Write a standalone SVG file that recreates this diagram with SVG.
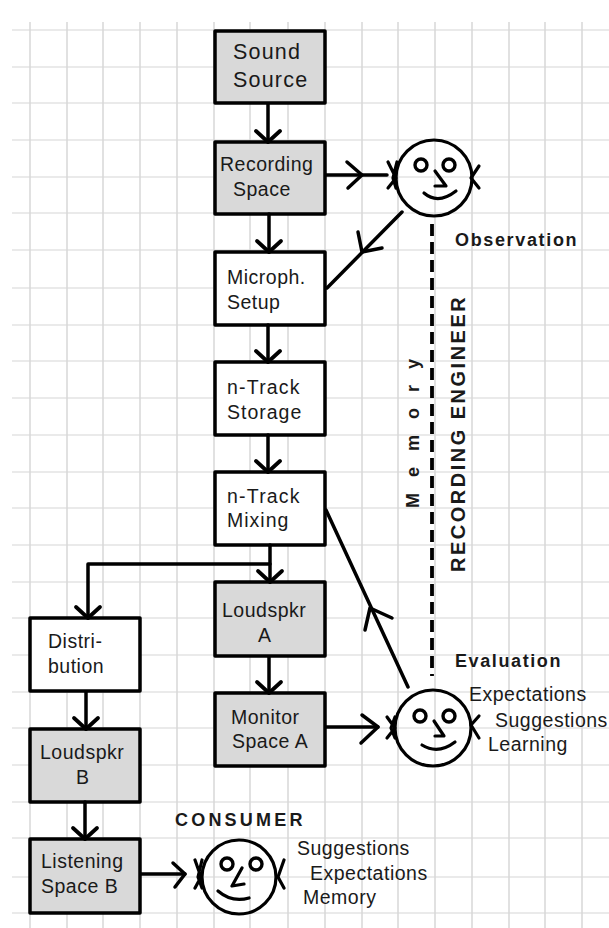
<svg xmlns="http://www.w3.org/2000/svg" width="609" height="928" viewBox="0 0 609 928">
<style>
.g{stroke:#e4e4e4;stroke-width:1.5;fill:none}
.gd{stroke:#d8d8d8;stroke-width:1.5;fill:none}
.b{stroke:#000;stroke-width:3.5;stroke-linejoin:round}
.s{fill:#d9d9d9}.w{fill:#fff}
text{font-family:"Liberation Sans",Arial,sans-serif;fill:#1a1a1a;font-size:19.5px;letter-spacing:.5px}
.h{font-weight:bold;font-size:18px}
.c{stroke:#000;stroke-width:3.5;fill:none;stroke-linecap:round;stroke-linejoin:round}
.f{stroke:#000;stroke-width:3.2;fill:none;stroke-linecap:round;stroke-linejoin:round}
</style>
<defs>
<marker id="a" markerUnits="userSpaceOnUse" markerWidth="32" markerHeight="32" refX="26" refY="16" orient="auto"><path d="M15 4L26 16L15 28" fill="none" stroke="#000" stroke-width="3.8" stroke-linecap="round" stroke-linejoin="round"/></marker>
<g id="eye"><circle r="6" fill="none" stroke="#000" stroke-width="3.4"/></g>
</defs>
<g id="grid">
<path class="g" d="M12 30H609M12 67H609M12 103H609M12 140H609M12 177H609M12 213H609M12 250H609M12 288H609M12 325H609M12 361H609M12 398H609M12 435H609M12 472H609M12 508H609M12 545H609M12 582H609M12 618H609M12 655H609M12 692H609M12 728H609M12 765H609M12 802H609M12 838H609M12 877H609M12 913H609"/>
<path class="gd" d="M30 22V928M67 22V928M103 22V928M140 22V928M177 22V928M214 22V928M250 22V928M288 22V928M325 22V928M362 22V928M398 22V928M435 22V928M472 22V928M509 22V928M545 22V928M582 22V928"/>
</g>
<g id="sound-source"><rect class="b s" x="215" y="31" width="110" height="72"/><text x="233" y="59" style="font-size:21.5px;letter-spacing:1.2px">Sound</text><text x="233" y="87" style="font-size:21.5px;letter-spacing:1.2px">Source</text></g>
<g id="recording-space"><rect class="b s" x="215" y="142" width="110" height="72"/><text x="220" y="171">Recording</text><text x="233" y="196">Space</text></g>
<g id="microph-setup"><rect class="b w" x="215" y="252" width="110" height="73"/><text x="227" y="284">Microph.</text><text x="227" y="309">Setup</text></g>
<g id="storage"><rect class="b w" x="215" y="362" width="110" height="73"/><text x="227" y="394" style="letter-spacing:1.2px">n-Track</text><text x="227" y="419" style="letter-spacing:1px">Storage</text></g>
<g id="mixing"><rect class="b w" x="215" y="472" width="110" height="73"/><text x="227" y="503" style="letter-spacing:1.2px">n-Track</text><text x="227" y="527" style="letter-spacing:1px">Mixing</text></g>
<g id="loudspkr-a"><rect class="b s" x="215" y="582" width="110" height="74"/><text x="222" y="617">Loudspkr</text><text x="258" y="642">A</text></g>
<g id="monitor"><rect class="b s" x="215" y="693" width="110" height="73"/><text x="231" y="724">Monitor</text><text x="232" y="748">Space A</text></g>
<g id="distribution"><rect class="b w" x="30" y="618" width="110" height="73"/><text x="48" y="648">Distri-</text><text x="48" y="673">bution</text></g>
<g id="loudspkr-b"><rect class="b s" x="30" y="729" width="110" height="73"/><text x="40" y="759">Loudspkr</text><text x="76" y="784">B</text></g>
<g id="listening"><rect class="b s" x="30" y="839" width="110" height="74"/><text x="41" y="868">Listening</text><text x="41" y="893">Space B</text></g>
<g id="connectors">
<path class="c" marker-end="url(#a)" d="M268 104V142"/>
<path class="c" marker-end="url(#a)" d="M269 214V252"/>
<path class="c" marker-end="url(#a)" d="M268 325V362"/>
<path class="c" marker-end="url(#a)" d="M268 435V472"/>
<path class="c" marker-end="url(#a)" d="M270 545V582"/>
<path class="c" marker-end="url(#a)" d="M270 564H88V618"/>
<path class="c" marker-end="url(#a)" d="M269 657V693"/>
<path class="c" marker-end="url(#a)" d="M86 692V729"/>
<path class="c" marker-end="url(#a)" d="M85 802V839"/>
<path class="c" d="M326 175H387"/>
<path class="c" d="M347 162L362 175L348 188"/>
<path class="c" d="M402 212L327 288"/>
<path class="c" d="M358 232L362 252L382 248"/>
<path class="c" d="M326 510L408 687"/>
<path class="c" d="M365 630L370 608L392 618"/>
<path class="c" d="M326 727H378"/>
<path class="c" d="M362 715L378 727L361 743"/>
<path class="c" d="M141 874H185"/>
<path class="c" d="M173 863L185 874L175 887"/>
<path d="M432 224V676" stroke="#000" stroke-width="3.8" stroke-dasharray="12 6" fill="none"/>
</g>
<g id="face-engineer"><circle class="f" cx="434" cy="178" r="38"/><use href="#eye" x="421" y="165"/><use href="#eye" x="449" y="165"/><path class="f" d="M435 171L446 186L435 186M424 193Q438 205 456 191M388 162L396 178L388 188M397 162L393 178L396 188M479 166L471 178L479 188"/></g>
<g id="face-evaluator"><circle class="f" cx="433" cy="728" r="38"/><use href="#eye" x="420" y="716"/><use href="#eye" x="449" y="716"/><path class="f" d="M434 721L444 736L435 736M422 745Q438 755 455 742M387 717L395 728L387 738M395 717L391 728L395 738M479 716L471 725L479 738"/></g>
<g id="face-consumer"><circle class="f" cx="239" cy="877" r="37"/><use href="#eye" x="227" y="864"/><use href="#eye" x="256" y="864"/><path class="f" d="M242 868L232 886L244 884M218 891Q232 903 249 898M195 860L201 877L195 888M202 860L198 877L202 888M284 860L278 877L284 888"/></g>
<g id="labels">
<text class="h" x="455" y="246" style="letter-spacing:1.65px">Observation</text>
<text class="h" x="455" y="667" style="letter-spacing:1.6px">Evaluation</text>
<text class="h" x="175" y="826" style="letter-spacing:3.2px">CONSUMER</text>
<text class="h" transform="translate(465 572) rotate(-90)" style="font-size:20px;letter-spacing:2.5px">RECORDING ENGINEER</text>
<text class="h" transform="translate(419 508) rotate(-90)" style="letter-spacing:16px">Memory</text>
<text x="469" y="701">Expectations</text>
<text x="495" y="727">Suggestions</text>
<text x="488" y="751">Learning</text>
<text x="297" y="855">Suggestions</text>
<text x="310" y="880">Expectations</text>
<text x="303" y="904">Memory</text>
</g>
</svg>
